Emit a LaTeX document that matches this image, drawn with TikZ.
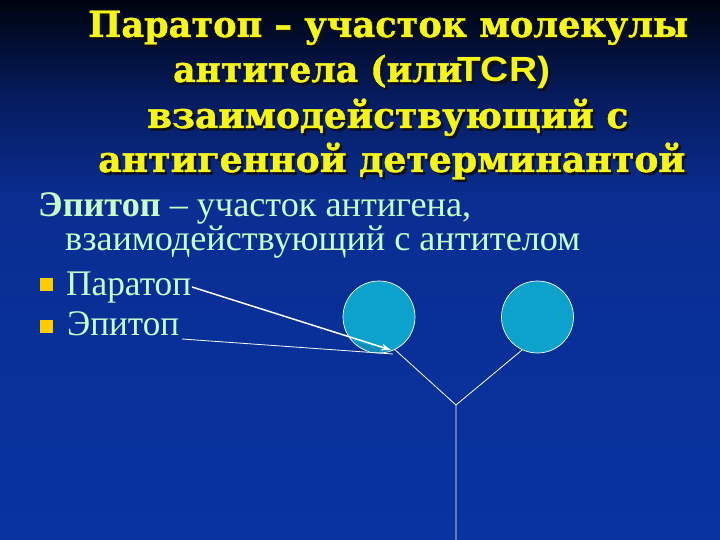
\documentclass[tikz,border=0pt]{standalone}
\usepackage{fontspec}
\usepackage{graphicx}
\setmainfont{Liberation Serif}
\newfontfamily\ttlfont{DejaVu Serif}[BoldFeatures={FakeBold=1.2}]
\newfontfamily\tcrfont{Liberation Sans}
\usetikzlibrary{arrows.meta}
\definecolor{ttlyellow}{RGB}{245,245,25}
\definecolor{ttlshade}{RGB}{15,15,20}
\definecolor{bodygreen}{RGB}{200,255,200}
\definecolor{bulletyel}{RGB}{255,204,0}
\definecolor{ballcyan}{RGB}{12,162,204}
\definecolor{ballshade}{RGB}{20,140,185}
\pgfdeclareverticalshading{bgshade}{100bp}{%
  rgb(0bp)=(0.03,0.2,0.63);
  rgb(25bp)=(0.03,0.2,0.63);
  rgb(56.5bp)=(0.04,0.18,0.57);
  rgb(65.7bp)=(0.02,0.11,0.38);
  rgb(75bp)=(0,0.015,0.06);
  rgb(100bp)=(0,0.015,0.06)}
\tikzset{
  ttltext/.style={anchor=base west, inner sep=0pt, text=ttlyellow,
    font=\ttlfont\bfseries\fontsize{36}{36}\selectfont},
  tcrtext/.style={ttltext, font=\tcrfont\bfseries\fontsize{35}{35}\selectfont},
  bodytext/.style={anchor=base west, inner sep=0pt, text=bodygreen,
    font=\fontsize{36}{36}\selectfont},
  bulletbox/.style={rectangle, fill=bulletyel, inner sep=0pt, minimum size=13pt},
  ball/.style={circle, draw=white, line width=0.7pt, fill=ballcyan,
    minimum size=72pt, inner sep=0pt},
  stem/.style={draw=white, line width=0.8pt},
  pointer/.style={draw=white, line width=1.5pt, -{Stealth[length=10pt,width=7pt]}},
  eline/.style={draw=white, line width=0.8pt}
}
% text with a dark drop shadow, set as one box
\newcommand\shadowed[2]{%
  \rlap{\raisebox{-2.5pt}{\kern2.5pt\textcolor{ttlshade}{\resizebox{#1pt}{\height}{#2}}}}%
  \resizebox{#1pt}{\height}{#2}}
\begin{document}
\begin{tikzpicture}[x=1pt,y=-1pt]
\useasboundingbox (0,0) rectangle (720,540);
\shade[shading=bgshade] (0,0) rectangle (720,540);
% title
\node[ttltext] (t1) at (88,37) {\shadowed{600}{Паратоп – участок молекулы}};
\node[ttltext] (t2a) at (173,82) {\shadowed{289}{антитела (или}};
\node[tcrtext] (t2b) at (457,82) {\shadowed{93}{TCR)}};
\node[ttltext] (t3) at (147,128) {\shadowed{481}{взаимодействующий с}};
\node[ttltext] (t4) at (98,172) {\shadowed{587}{антигенной детерминантой}};
% body
\node[bodytext] (e1) at (38,216) {\resizebox{433pt}{\height}{\textbf{Эпитоп} – участок антигена,}};
\node[bodytext] (e2) at (65,250) {\resizebox{515pt}{\height}{взаимодействующий с антителом}};
\node[bulletbox] (b1) at (46.5,284.5) {};
\node[bodytext] (par) at (66,295) {\resizebox{125pt}{\height}{Паратоп}};
\node[bulletbox] (b2) at (46.5,326.5) {};
\node[bodytext] (epi) at (67,335) {\resizebox{112pt}{\height}{Эпитоп}};
% antibody
\node[ball] (c1) at (379,317) {};
\node[ball] (c2) at (537.5,317) {};
\fill[ballshade] (352,341) -- (391,351) -- (372,353) -- cycle;
\coordinate (J) at (456,405);
\coordinate (B) at (456,541);
\draw[stem] (c1.-64) -- (J) -- (B);
\draw[stem] (c2.-115) -- (J);
% pointers
\coordinate (pstart) at (192,287);
\coordinate (ptip) at (391,350);
\draw[pointer] (pstart) -- (ptip);
\coordinate (estart) at (182,339);
\coordinate (eend) at (393,354);
\draw[eline] (estart) -- (eend);
\end{tikzpicture}
\end{document}
